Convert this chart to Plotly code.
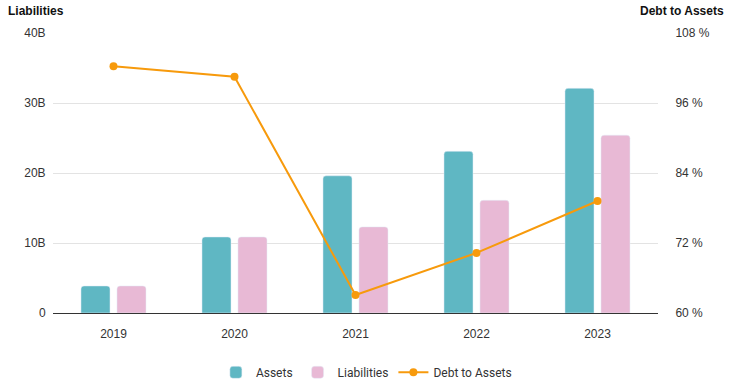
import plotly.graph_objects as go

years = ["2019", "2020", "2021", "2022", "2023"]
assets = [3.86, 10.86, 19.6, 23.1, 32.1]
liabilities = [3.86, 10.86, 12.3, 16.1, 25.4]
debt_to_assets = [102.3, 100.5, 63.1, 70.3, 79.2]

left_ticks = [0, 10, 20, 30, 40]
left_labels = ["0", "10B", "20B", "30B", "40B"]
right_ticks = [60, 72, 84, 96, 108]
right_labels = ["60 %", "72 %", "84 %", "96 %", "108 %"]

fig = go.Figure()
fig.add_trace(go.Bar(x=years, y=assets, name="Assets", marker_color="#5fb7c3"))
fig.add_trace(go.Bar(x=years, y=liabilities, name="Liabilities", marker_color="#e8b9d5"))
fig.add_trace(go.Scatter(x=years, y=debt_to_assets, name="Debt to Assets", yaxis="y2",
                         mode="lines+markers", line=dict(color="#f79a0c", width=2),
                         marker=dict(size=8, color="#f79a0c")))

fig.update_layout(
    width=739, height=385,
    margin=dict(l=53, r=81, t=33, b=72, autoexpand=False),
    plot_bgcolor="white", paper_bgcolor="white",
    font=dict(family="Liberation Sans, Arial", size=12, color="#333"),
    barmode="group", bargap=0.405, bargroupgap=0.194, barcornerradius=3,
    showlegend=True,
    legend=dict(orientation="h", x=0.518, xanchor="center", y=-0.16, yanchor="top",
                font=dict(family="Roboto", size=12, color="#333"), itemwidth=30),
    xaxis=dict(showline=True, linecolor="#333", linewidth=1, ticks="outside", ticklen=10,
               tickcolor="rgba(0,0,0,0)", showgrid=False, automargin=False,
               tickfont=dict(size=12, color="#333")),
    yaxis=dict(range=[0, 40], tickvals=left_ticks, ticktext=left_labels, automargin=False,
               showgrid=True, gridcolor="#e3e3e3", zeroline=False, ticks="outside", ticklen=4,
               tickcolor="rgba(0,0,0,0)",
               tickfont=dict(size=12, color="#333")),
    yaxis2=dict(range=[60, 108], tickvals=right_ticks, ticktext=right_labels, overlaying="y",
                side="right", showgrid=False, zeroline=False, automargin=False,
                ticks="outside", ticklen=14, tickcolor="rgba(0,0,0,0)",
                tickfont=dict(size=12, color="#333")),
    annotations=[
        dict(text="<b>Liabilities</b>", xref="paper", yref="paper", x=-47/605, y=1.0,
             yshift=22, xanchor="left", yanchor="middle", showarrow=False,
             font=dict(family="Liberation Sans, Arial", size=12, color="#111")),
        dict(text="<b>Debt to Assets</b>", xref="paper", yref="paper", x=1 + 68/605, y=1.0,
             yshift=22, xanchor="right", yanchor="middle", showarrow=False,
             font=dict(family="Liberation Sans, Arial", size=12, color="#111")),
    ],
)

fig.write_html("out.html", config={"displayModeBar": False},
               post_script="document.body.style.margin='0';")
